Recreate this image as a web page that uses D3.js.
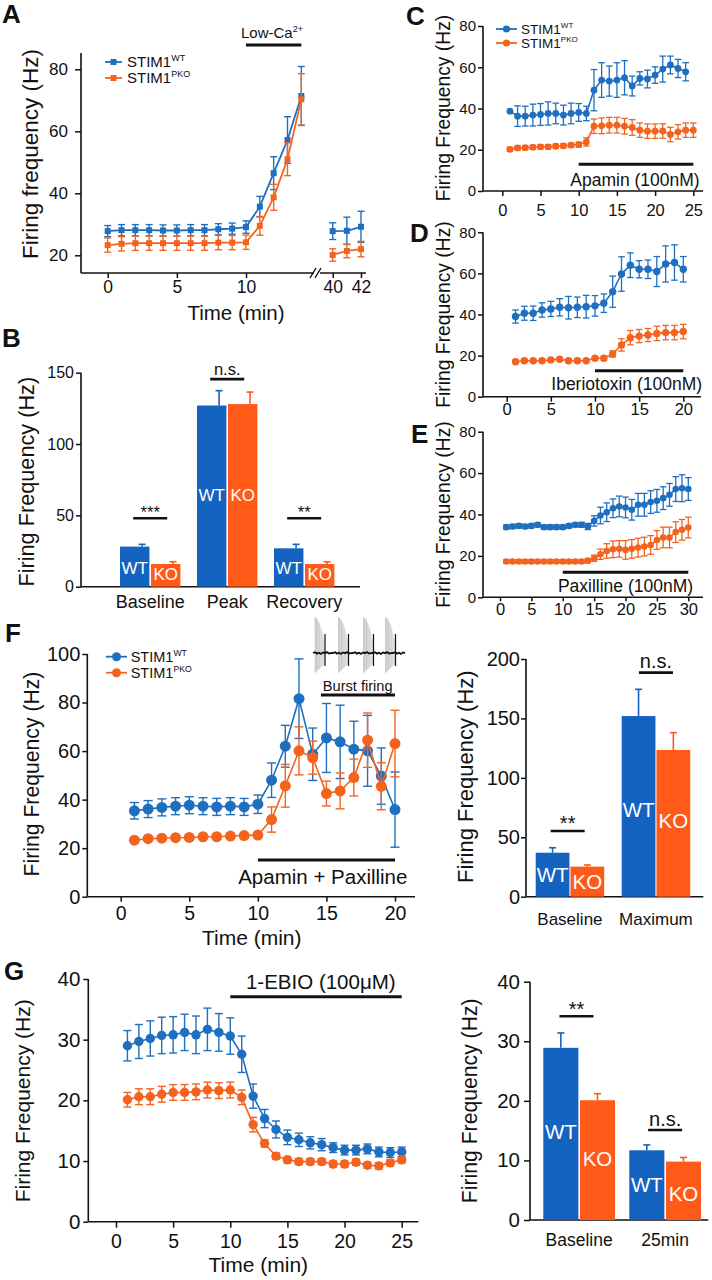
<!DOCTYPE html>
<html><head><meta charset="utf-8">
<script src="https://cdn.jsdelivr.net/npm/d3@7"></script>
<style>
body{margin:0;background:#fff}
svg{display:block}
</style></head><body>
<svg id="fig" width="712" height="1280"></svg>
<script>
// ================= DATA =================
const seriesNames = ["STIM1","STIM1"];
const seriesSup = ["WT","PKO"];
const groupNames = ["WT","KO"];

// Panel A
const aTime = [0,1,2,3,4,5,6,7,8,9,10,11,12,13,14];
const aWT = [27.8,28.1,28.1,28.1,28.0,28.0,28.1,28.1,28.4,28.6,29.1,35.7,46.5,57.2,71.4];
const aWTerr = [1.8,1.8,1.8,1.8,1.8,1.8,1.8,1.8,1.8,1.8,2.0,3.3,5.3,7.5,9.5];
const aKO = [23.3,23.7,23.9,23.9,23.9,23.9,23.9,23.9,24.1,24.1,24.2,29.5,38.7,51.0,70.3];
const aKOerr = [2.3,2.3,2.3,2.3,2.3,2.3,2.3,2.3,2.3,2.3,2.3,3.0,4.2,5.3,8.3];
const aTime2 = [40,41,42];
const aWT2 = [27.8,27.9,29.2], aWT2err = [2.7,4.4,5.0];
const aKO2 = [20.1,21.4,22.0], aKO2err = [2.0,2.2,2.5];
const aXTicks = [0,5,10], aXTicks2 = [40,42], aYTicks = [20,40,60,80];
const aDrug = [10,14];

// Panel B
const bCats = ["Baseline","Peak","Recovery"];
const bWT = [28.1,127,26.9], bWTerr = [1.6,10.4,2.8];
const bKO = [15.9,128,15.9], bKOerr = [1.6,8.4,1.6];
const bSig = ["***","n.s.","**"];
const bYTicks = [0,50,100,150];

// Panel C
const cTimeWT = d3.range(1,25);
const cWT = [38.7,36.3,36.3,36.8,37.1,37.6,37.6,36.8,37.6,38.1,37.6,48.9,53.8,53.3,53.8,54.9,50.9,54.6,54.3,56.2,59.1,61.1,59.4,57.8];
const cWTerr = [0,5,4.8,5.3,5.3,5.6,5,4.8,5,4.3,3.5,10,8.4,7.3,8.4,8.3,4.8,3.2,4.3,4,6.3,4.3,4.4,4.4];
const cTimeKO = d3.range(1,26);
const cKO = [20.2,20.9,21.0,21.2,21.4,21.4,21.7,21.9,22.2,22.5,23.8,31.4,31.6,31.9,31.9,31.4,30.8,29.5,29.0,29.0,29.1,27.4,28.7,29.5,29.5];
const cKOerr = [1,1,1,1,1,1,1,1,1,1.2,2,3.5,3.8,3.8,3.8,3.8,3.8,3.5,3.5,3.5,3.5,3.5,3.5,3.5,3.5];
const cXTicks = [0,5,10,15,20,25];
const cDrug = [10,25];

// Panel D
const dTime = d3.range(1,21);
const dWT = [39,40.6,40.6,42.2,42.7,43.5,43.3,43.5,43.8,44.2,45.5,51.1,59.7,64,62,62,60.9,64.6,65.3,62];
const dWTerr = [3.2,3.4,3.5,3.5,3.7,4.2,5.5,5.0,5.5,5.0,4.5,7.6,8.4,6,4.2,4.5,7.3,8.8,8.6,6.2];
const dKO = [17,17.5,17.5,17.5,17.9,18.2,17.5,17.5,17.5,18.7,18.7,20.8,25.2,28.7,29.5,30,30.8,31.2,31.2,31.7];
const dKOerr = [0.8,0.8,0.8,0.8,0.8,0.8,0.8,0.8,0.8,0.8,1.0,1.5,3,3.5,3.2,3.2,3.5,3.5,3.5,3.5];
const dXTicks = [0,5,10,15,20];
const dDrug = [10,20];

// Panel E
const eTime = d3.range(1,31);
const eWT = [33.9,34.2,34.5,34.2,34.5,35.0,33.9,33.9,33.9,33.9,34.5,35.0,35.0,34.2,36.9,39.5,41.1,43.0,43.9,43.4,42.3,44.7,44.7,46.0,46.6,47.9,49.5,52.3,52.7,52.3];
const eWTerr = [1,1,1,1,1,1,1,1,1,1,1,1,1.2,1.5,2.5,4,4.5,4.5,5,5,5,5.5,5.5,5.5,5.5,5.5,5.5,6,6.5,5.5];
const eKO = [17.3,17.3,17.3,17.3,17.3,17.3,17.3,17.3,17.3,17.3,17.3,17.3,17.3,17.7,18.9,20.8,22.4,23.2,23.4,22.9,23.4,24.0,24.5,25.3,27.7,28.9,28.9,31.5,32.6,33.7];
const eKOerr = [0.8,0.8,0.8,0.8,0.8,0.8,0.8,0.8,0.8,0.8,0.8,0.8,0.8,1,1.5,2.5,3.5,4,4,4.5,4.5,4.5,4.5,4.5,4.5,5,5,5,5,5];
const eXTicks = [0,5,10,15,20,25,30];
const eDrug = [10,30];
const cdeYTicks = [0,20,40,60,80];

// Panel F (time course)
const fTime = d3.range(1,21);
const fWT = [35.4,36.1,36.8,37.3,37.7,37.3,37.0,37.3,37.0,38.1,48.0,62.0,81.6,58.7,65.4,63.8,60.8,60.1,49.7,35.9];
const fWTerr = [3.4,3.5,3.5,3.5,3.5,3.5,3.5,3.5,3.5,3.8,7.1,8.6,16.4,10.8,14.2,15.1,11.5,14.6,11.6,15.5];
const fKO = [23.3,23.9,24.1,24.3,24.4,24.7,24.7,25.0,25.2,25.4,31.8,45.7,60.1,57.3,42.5,43.6,49.1,64.5,45.5,63.1];
const fKOerr = [0.8,0.8,0.8,0.8,0.8,0.8,0.8,0.8,0.8,0.8,5.2,8.8,9.9,6.8,5.1,7.4,7.6,11.2,9.7,13.7];
const fXTicks = [0,5,10,15,20], fYTicks = [0,20,40,60,80,100];
const fDrug = [10,20], fBurst = [14.6,20];

// Panel F (bars)
const fbCats = ["Baseline","Maximum"];
const fbWT = [37,152], fbWTerr = [4.2,22.5];
const fbKO = [25.3,123.5], fbKOerr = [1.4,14.5];
const fbSig = ["**","n.s."];
const fbYTicks = [0,50,100,150,200];

// Panel G (time course)
const gTime = d3.range(1,26);
const gWT = [29.0,29.7,30.2,30.7,30.8,31.2,30.8,31.7,31.2,30.6,27.6,20.7,17.0,15.2,13.9,13.5,13.0,12.7,12.2,11.8,11.8,12.0,11.5,11.4,11.5];
const gWTerr = [2.5,2.8,2.9,3.0,3.0,3.0,3.1,3.5,3.1,3.0,3.0,2.0,1.5,1.4,1.2,1.1,1.0,1.0,0.8,0.8,0.8,0.8,0.8,0.8,0.8];
const gKO = [20.1,20.6,20.6,21.0,21.3,21.3,21.4,21.7,21.6,21.7,20.5,16.0,12.9,10.8,10.2,9.9,9.9,9.9,9.5,9.5,9.8,9.3,9.2,9.7,10.2];
const gKOerr = [1.2,1.3,1.3,1.3,1.3,1.3,1.3,1.3,1.3,1.3,1.2,1.2,0.6,0.5,0.5,0.5,0.5,0.5,0.5,0.5,0.5,0.5,0.5,0.5,0.5];
const gXTicks = [0,5,10,15,20,25], gYTicks = [0,10,20,30,40];
const gDrug = [10,25];

// Panel G (bars)
const gbCats = ["Baseline","25min"];
const gbWT = [28.9,11.7], gbWTerr = [2.5,0.9];
const gbKO = [20.1,9.8], gbKOerr = [1.1,0.7];
const gbSig = ["**","n.s."];

// ================= STYLE / LAYOUT =================
const FONT = '"Liberation Sans", Arial, Helvetica, sans-serif';
const BLUE = "#1f6fc0", ORANGE = "#f4631e";
const BAR_BLUE = "#1563c0", BAR_ORANGE = "#ff5a17";
const INK = "#111";
const fmt = d3.format("d");
const svg = d3.select("#fig");

function txt(x, y, s, fs, o = {}) {
  const t = svg.append("text").attr("x", x).attr("y", y).attr("font-size", fs)
    .attr("font-family", FONT).attr("fill", o.fill || INK)
    .attr("text-anchor", o.anchor || "middle").text(s);
  if (o.weight) t.attr("font-weight", o.weight);
  if (o.db) t.attr("dominant-baseline", o.db);
  return t;
}
function hline(x1, x2, y, w, c) {
  svg.append("line").attr("x1", x1).attr("x2", x2).attr("y1", y).attr("y2", y)
    .attr("stroke", c || INK).attr("stroke-width", w);
}
function vline(x, y1, y2, w, c) {
  svg.append("line").attr("x1", x).attr("x2", x).attr("y1", y1).attr("y2", y2)
    .attr("stroke", c || INK).attr("stroke-width", w);
}
function yAxis(scale, x, ticks, top, bottom, fs, ts, pad) {
  const g = svg.append("g").attr("transform", `translate(${x},0)`)
    .call(d3.axisLeft(scale).tickValues(ticks).tickFormat(fmt).tickSize(ts).tickPadding(pad));
  g.select(".domain").remove();
  g.attr("font-family", FONT).attr("font-size", fs);
  g.selectAll(".tick line").attr("stroke", INK).attr("stroke-width", 1.5);
  g.selectAll(".tick text").attr("fill", INK);
  vline(x, top, bottom, 1.6);
}
function xAxis(scale, y, ticks, left, right, fs, ts, pad) {
  if (ticks) {
    const g = svg.append("g").attr("transform", `translate(0,${y})`)
      .call(d3.axisBottom(scale).tickValues(ticks).tickFormat(fmt).tickSize(ts).tickPadding(pad));
    g.select(".domain").remove();
    g.attr("font-family", FONT).attr("font-size", fs);
    g.selectAll(".tick line").attr("stroke", INK).attr("stroke-width", 1.5);
    g.selectAll(".tick text").attr("fill", INK);
  }
  hline(left, right, y, 1.6);
}
function yTitle(s, cx, cy, fs) {
  svg.append("text").attr("transform", `translate(${cx},${cy}) rotate(-90)`)
    .attr("text-anchor", "middle").attr("dy", "0.3em").attr("font-size", fs)
    .attr("font-family", FONT).attr("fill", INK).text(s);
}
function series(x, y, t, v, e, color, o) {
  const pts = t.map((tt, i) => ({ t: tt, v: v[i], e: e[i] }));
  const g = svg.append("g");
  g.append("path").datum(pts)
    .attr("d", d3.line().x(d => x(d.t)).y(d => y(d.v)))
    .attr("fill", "none").attr("stroke", color).attr("stroke-width", o.lw);
  const eb = g.append("g").attr("stroke", color).attr("stroke-width", o.ew);
  pts.filter(d => d.e > 0).forEach(d => {
    const cx = x(d.t), y1 = y(d.v - d.e), y2 = y(d.v + d.e);
    eb.append("line").attr("x1", cx).attr("x2", cx).attr("y1", y1).attr("y2", y2);
    eb.append("line").attr("x1", cx - o.cap).attr("x2", cx + o.cap).attr("y1", y1).attr("y2", y1);
    eb.append("line").attr("x1", cx - o.cap).attr("x2", cx + o.cap).attr("y1", y2).attr("y2", y2);
  });
  if (o.shape === "square") {
    g.selectAll("rect.m").data(pts).enter().append("rect")
      .attr("x", d => x(d.t) - o.r).attr("y", d => y(d.v) - o.r)
      .attr("width", 2 * o.r).attr("height", 2 * o.r).attr("fill", color);
  } else {
    g.selectAll("circle.m").data(pts).enter().append("circle")
      .attr("cx", d => x(d.t)).attr("cy", d => y(d.v)).attr("r", o.r).attr("fill", color);
  }
}
function legend(x0, x1, ys, xText, fs, shape, r) {
  [BLUE, ORANGE].forEach((c, i) => {
    const y = ys[i];
    hline(x0, x1, y, 1.8, c);
    const xm = (x0 + x1) / 2;
    if (shape === "square") svg.append("rect").attr("x", xm - r).attr("y", y - r).attr("width", 2 * r).attr("height", 2 * r).attr("fill", c);
    else svg.append("circle").attr("cx", xm).attr("cy", y).attr("r", r).attr("fill", c);
    const t = svg.append("text").attr("x", xText).attr("y", y + fs * 0.36).attr("font-size", fs)
      .attr("font-family", FONT).attr("fill", INK);
    t.append("tspan").text(seriesNames[i]);
    t.append("tspan").attr("font-size", fs * 0.6).attr("dy", -fs * 0.42).text(seriesSup[i]);
  });
}
function barPanel(o) {
  const xb = d3.scaleBand().domain(o.cats).range(o.range).paddingInner(o.padIn).paddingOuter(0);
  const xs = d3.scaleBand().domain(groupNames).range([0, xb.bandwidth()]).paddingInner(o.subPad);
  const y = o.y;
  const vals = [o.wt, o.ko], errs = [o.wtErr, o.koErr], cols = [BAR_BLUE, BAR_ORANGE];
  o.cats.forEach((c, ci) => {
    groupNames.forEach((gname, gi) => {
      const x0 = xb(c) + xs(gname), w = xs.bandwidth();
      const v = vals[gi][ci], e = errs[gi][ci];
      const ex = x0 + w / 2 + o.errOff * w;
      vline(ex, y(v), y(v + e), 1.6, cols[gi]);
      hline(ex - 3.5, ex + 3.5, y(v + e), 1.6, cols[gi]);
      svg.append("rect").attr("x", x0).attr("y", y(v)).attr("width", w)
        .attr("height", y(0) - y(v)).attr("fill", cols[gi]);
      txt(x0 + w / 2, y(o.labLevels[gi][ci]), gname, o.labFs, { fill: "#fff", db: "central" });
    });
    const cx = xb(c) + xb.bandwidth() / 2 + (o.sigShift ? o.sigShift[ci] : 0);
    const ly = y(o.sigLevels[ci]);
    hline(cx - o.sigHalf, cx + o.sigHalf, ly, 2.6);
    const s = o.sig[ci];
    txt(cx, s.startsWith("*") ? ly - 0.5 : ly - 4.5, s, o.sigFs);
    txt(xb(c) + xb.bandwidth() / 2, o.catY, c, o.catFs);
  });
}
function letter(s, x, y) { txt(x, y, s, 26, { anchor: "start", weight: "bold" }); }

// ================= PANEL A =================
{
  const xA = d3.scaleLinear().domain([0, 10]).range([107.7, 246]);
  const xA2 = d3.scaleLinear().domain([40, 42]).range([332.7, 361]);
  const yA = d3.scaleLinear().domain([20, 80]).range([255.3, 69.3]);
  yAxis(yA, 81, aYTicks, 53, 273, 17, 6, 7);
  xAxis(xA, 273, aXTicks, 81, 314, 17.5, 5, 3);
  xAxis(xA2, 273, aXTicks2, 320, 366, 17.5, 5, 3);
  // axis break marks
  svg.append("line").attr("x1", 310).attr("y1", 278).attr("x2", 316).attr("y2", 268).attr("stroke", INK).attr("stroke-width", 1.4);
  svg.append("line").attr("x1", 315).attr("y1", 278).attr("x2", 321).attr("y2", 268).attr("stroke", INK).attr("stroke-width", 1.4);
  const so = { lw: 1.8, ew: 1.4, cap: 3.5, r: 3, shape: "square" };
  series(xA, yA, aTime, aWT, aWTerr, BLUE, so);
  series(xA, yA, aTime, aKO, aKOerr, ORANGE, so);
  series(xA2, yA, aTime2, aWT2, aWT2err, BLUE, so);
  series(xA2, yA, aTime2, aKO2, aKO2err, ORANGE, so);
  legend(105, 122, [62, 78], 127, 15, "square", 3);
  hline(xA(aDrug[0]), xA(aDrug[1]), 45, 3);
  const t = txt(272, 38, "Low-Ca", 15);
  t.append("tspan").attr("font-size", 9).attr("dy", -6).text("2+");
  yTitle("Firing frequency (Hz)", 31, 154, 22.5);
  txt(236, 319.5, "Time (min)", 20.5);
  letter("A", 2, 23);
}

// ================= PANEL B =================
{
  const yB = d3.scaleLinear().domain([0, 150]).range([586.7, 372.7]);
  yAxis(yB, 81, bYTicks, 372.7, 586.7, 16, 5, 2);
  xAxis(null, 586.7, null, 81, 360);
  barPanel({
    cats: bCats, wt: bWT, wtErr: bWTerr, ko: bKO, koErr: bKOerr, y: yB,
    range: [120, 334.4], padIn: 0.2156, subPad: 0.05, errOff: 0.25,
    labLevels: [[13, 64, 13], [8.3, 64, 8.3]], labFs: 17,
    sig: bSig, sigLevels: [48, 145.5, 48], sigHalf: 17, sigFs: 16.5,
    catY: 608, catFs: 18
  });
  yTitle("Firing Frequency (Hz)", 27, 481.7, 21.7);
  letter("B", 2, 346.7);
}

// ================= PANELS C, D, E =================
{
  const so = { lw: 1.6, ew: 1.3, cap: 3.3, r: 3.4 };
  // C
  const xC = d3.scaleLinear().domain([0, 25]).range([502.3, 693.3]);
  const yC = d3.scaleLinear().domain([0, 80]).range([191, 26]);
  yAxis(yC, 483, cdeYTicks, 26, 191, 15, 5, 2);
  xAxis(xC, 191, cXTicks, 483, 703, 16.5, 5, 8);
  series(xC, yC, cTimeWT, cWT, cWTerr, BLUE, so);
  series(xC, yC, cTimeKO, cKO, cKOerr, ORANGE, so);
  legend(496, 517, [29, 43], 521, 13.5, "circle", 3.6);
  hline(xC(cDrug[0]), xC(cDrug[1]), 164.3, 3);
  txt(635, 186, "Apamin (100nM)", 17.5);
  yTitle("Firing Frequency (Hz)", 444, 108, 19.3);
  letter("C", 406, 25);
  // D
  const xD = d3.scaleLinear().domain([0, 20]).range([506.7, 683.3]);
  const yD = d3.scaleLinear().domain([0, 80]).range([396.7, 232.3]);
  yAxis(yD, 483, cdeYTicks, 232.3, 396.7, 15, 5, 2);
  xAxis(xD, 396.7, dXTicks, 483, 701, 16.5, 5, 2);
  series(xD, yD, dTime, dWT, dWTerr, BLUE, { ...so, r: 3.7 });
  series(xD, yD, dTime, dKO, dKOerr, ORANGE, { ...so, r: 3.7 });
  hline(xD(dDrug[0]), xD(dDrug[1]), 370.7, 3);
  txt(626.7, 389.5, "Iberiotoxin (100nM)", 17.5);
  yTitle("Firing Frequency (Hz)", 444, 314.5, 19.3);
  letter("D", 410, 241.7);
  // E
  const xE = d3.scaleLinear().domain([0, 30]).range([500, 688.3]);
  const yE = d3.scaleLinear().domain([0, 80]).range([597.3, 431.7]);
  yAxis(yE, 483, cdeYTicks, 431.7, 597.3, 15, 5, 2);
  xAxis(xE, 597.3, eXTicks, 483, 703, 16.5, 4, 2);
  series(xE, yE, eTime, eWT, eWTerr, BLUE, { ...so, r: 3.3 });
  series(xE, yE, eTime, eKO, eKOerr, ORANGE, { ...so, r: 3.3 });
  hline(xE(eDrug[0]), xE(eDrug[1]), 572.3, 3);
  txt(625.5, 592, "Paxilline (100nM)", 17.5);
  yTitle("Firing Frequency (Hz)", 444, 514.5, 19.3);
  letter("E", 411, 443);
}

// ================= PANEL F =================
{
  const xF = d3.scaleLinear().domain([0, 20]).range([120.7, 395]);
  const yF = d3.scaleLinear().domain([0, 100]).range([896.7, 654]);
  yAxis(yF, 87.3, fYTicks, 654, 896.7, 20, 5, 2);
  xAxis(xF, 896.7, fXTicks, 87.3, 415, 19.5, 5, 4);
  const so = { lw: 1.6, ew: 1.4, cap: 4.5, r: 5.5 };
  series(xF, yF, fTime, fWT, fWTerr, BLUE, so);
  series(xF, yF, fTime, fKO, fKOerr, ORANGE, so);
  legend(106, 127, [656.7, 672.7], 130.7, 14.5, "circle", 4.5);
  hline(xF(fDrug[0]), xF(fDrug[1]), 860, 3);
  txt(322.8, 883.5, "Apamin + Paxilline", 20.5);
  hline(xF(fBurst[0]), xF(fBurst[1]), 695, 3);
  txt(357.7, 691, "Burst firing", 14.6);
  yTitle("Firing Frequency (Hz)", 32.5, 774, 21.2);
  txt(251.7, 944.7, "Time (min)", 21);
  letter("F", 5, 641.7);
  // recording inset (illustration of burst firing trace)
  const ins = svg.append("g");
  [315, 338.5, 363.5, 385.5].forEach(bx => {
    for (let i = 0; i < 14; i++) {
      ins.append("line").attr("x1", bx + i * 0.75).attr("x2", bx + i * 0.75)
        .attr("y1", 617 + i * i * 0.12 + i * 0.4).attr("y2", 673 - i * 0.7)
        .attr("stroke", "#555").attr("stroke-opacity", 0.32 - i * 0.012).attr("stroke-width", 0.8);
    }
    ins.append("line").attr("x1", bx + 10).attr("x2", bx + 10).attr("y1", 634).attr("y2", 666)
      .attr("stroke", "#111").attr("stroke-width", 1.2);
  });
  const wig = [0, -0.8, 0.6, -0.3, 0.9, -0.6, 0.2, -0.9, 0.5, 0.1];
  const tp = d3.range(313, 407, 2).map((x, i) => [x, 653 + wig[i % wig.length]]);
  ins.append("path").attr("d", d3.line()(tp)).attr("fill", "none").attr("stroke", "#111").attr("stroke-width", 1.8);

  // bars
  const yFb = d3.scaleLinear().domain([0, 200]).range([896.7, 659]);
  yAxis(yFb, 526, fbYTicks, 659, 896.7, 20, 5, 1);
  xAxis(null, 896.7, null, 526, 703.3);
  barPanel({
    cats: fbCats, wt: fbWT, wtErr: fbWTerr, ko: fbKO, koErr: fbKOerr, y: yFb,
    range: [535.7, 690.2], padIn: 0.2035, subPad: 0.03, errOff: 0,
    labLevels: [[18.3, 73.6], [12.6, 64]], labFs: 20.5,
    sig: fbSig, sigLevels: [55.3, 188.5], sigHalf: 17, sigFs: 20, sigShift: [-2.3, 0],
    catY: 924.5, catFs: 17
  });
  yTitle("Firing Frequency (Hz)", 466, 776.7, 22);
}

// ================= PANEL G =================
{
  const xG = d3.scaleLinear().domain([0, 25]).range([116, 401.7]);
  const yG = d3.scaleLinear().domain([0, 40]).range([1221.7, 979]);
  yAxis(yG, 88.3, gYTicks, 979, 1221.7, 20.5, 5, 3);
  xAxis(xG, 1221.7, gXTicks, 88.3, 418.3, 19.5, 6, 6);
  const so = { lw: 1.6, ew: 1.4, cap: 4, r: 4.7 };
  series(xG, yG, gTime, gWT, gWTerr, BLUE, so);
  series(xG, yG, gTime, gKO, gKOerr, ORANGE, so);
  hline(xG(gDrug[0]), xG(gDrug[1]), 996.7, 3);
  txt(320.8, 989, "1-EBIO (100μM)", 20.5);
  yTitle("Firing Frequency (Hz)", 24, 1100.8, 21);
  txt(258.3, 1271.7, "Time (min)", 21);
  letter("G", 4, 980);

  const yGb = d3.scaleLinear().domain([0, 40]).range([1220, 981.7]);
  yAxis(yGb, 530, gYTicks, 981.7, 1220, 20.5, 6, 4);
  xAxis(null, 1220, null, 530, 708.3);
  barPanel({
    cats: gbCats, wt: gbWT, wtErr: gbWTerr, ko: gbKO, koErr: gbKOerr, y: yGb,
    range: [543.3, 701], padIn: 0.166, subPad: 0.042, errOff: 0,
    labLevels: [[14.8, 5.9], [10.35, 4.4]], labFs: 20.5,
    sig: gbSig, sigLevels: [34.2, 15.1], sigHalf: 17, sigFs: 20, sigShift: [-2.7, 0],
    catY: 1246, catFs: 17.5
  });
  yTitle("Firing Frequency (Hz)", 470.8, 1100.8, 21.2);
}
</script>
</body></html>
